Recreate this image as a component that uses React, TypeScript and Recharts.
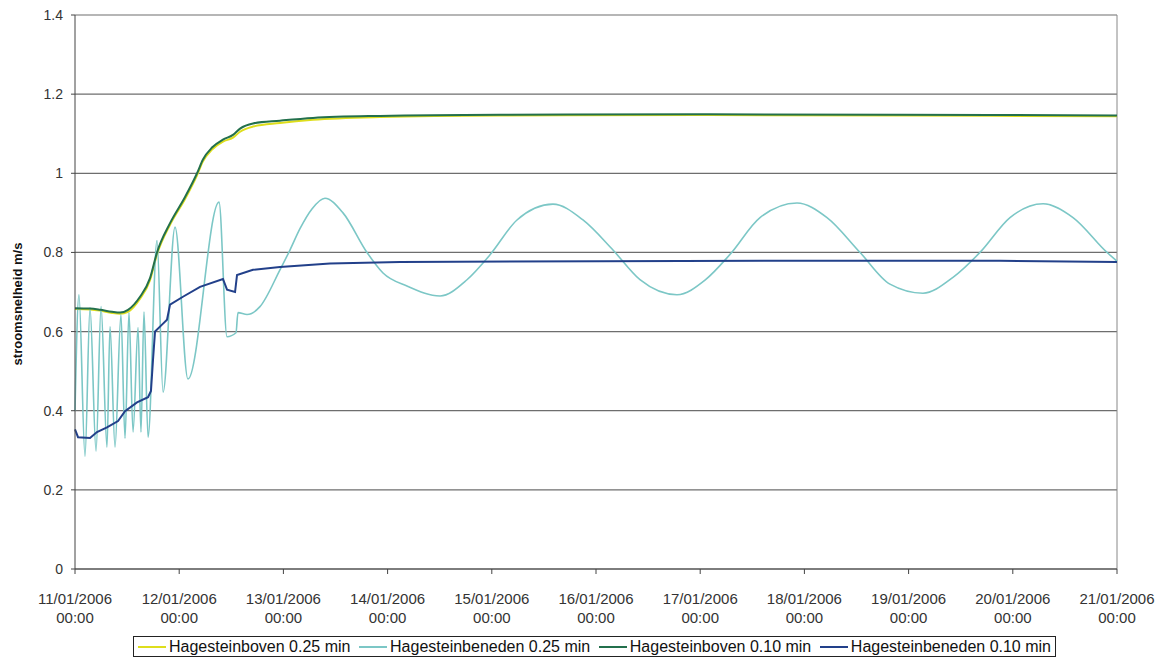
import { CartesianGrid, Line, LineChart, ReferenceLine, XAxis, YAxis } from "recharts";

// time in days since 11/01/2006 00:00
const dayLabels = [
  "11/01/2006", "12/01/2006", "13/01/2006", "14/01/2006", "15/01/2006", "16/01/2006",
  "17/01/2006", "18/01/2006", "19/01/2006", "20/01/2006", "21/01/2006",
];
const yTicks = [0, 0.2, 0.4, 0.6, 0.8, 1, 1.2, 1.4];

// Hagesteinboven (upstream), both time steps share the same sample times
const bovenT = [
  0, 0.144, 0.24, 0.355, 0.432, 0.509, 0.624, 0.72, 0.787, 0.912, 1.056, 1.171, 1.228,
  1.315, 1.42, 1.516, 1.584, 1.708, 1.967, 2.284, 2.927, 4.079, 5.998, 7.917, 10,
];
const boven025 = [
  0.657, 0.656, 0.653, 0.647, 0.645, 0.65, 0.683, 0.73, 0.795, 0.87, 0.935, 0.995, 1.03,
  1.06, 1.08, 1.09, 1.105, 1.118, 1.127, 1.135, 1.142, 1.146, 1.147, 1.146, 1.144,
];
const boven010 = [
  0.659, 0.658, 0.655, 0.65, 0.648, 0.655, 0.688, 0.735, 0.8, 0.874, 0.94, 1.0, 1.035,
  1.065, 1.085, 1.097, 1.113, 1.126, 1.133, 1.14, 1.145, 1.148, 1.149, 1.148, 1.146,
];

// Hagesteinbeneden (downstream), 0.25 min step
const beneden025T = [
  0, 0.038, 0.096, 0.144, 0.202, 0.25, 0.307, 0.336, 0.384, 0.441, 0.48, 0.518, 0.557,
  0.605, 0.633, 0.662, 0.701, 0.787, 0.845, 0.96, 1.084, 1.382, 1.459, 1.545, 1.564,
  1.651, 1.775, 1.967, 2.063, 2.159, 2.274, 2.399, 2.572, 2.802, 2.956, 3.186, 3.503,
  3.762, 3.983, 4.242, 4.587, 4.875, 5.163, 5.422, 5.777, 6.046, 6.286, 6.574, 6.929,
  7.217, 7.534, 7.821, 8.138, 8.426, 8.685, 8.973, 9.29, 9.578, 9.904, 10,
];
const beneden025 = [
  0.4, 0.693, 0.285, 0.66, 0.298, 0.663, 0.308, 0.613, 0.308, 0.643, 0.33, 0.648, 0.346,
  0.61, 0.346, 0.65, 0.333, 0.83, 0.447, 0.864, 0.48, 0.927, 0.587, 0.597, 0.648,
  0.643, 0.663, 0.756, 0.806, 0.86, 0.91, 0.937, 0.9, 0.8, 0.748, 0.715, 0.69,
  0.731, 0.794, 0.882, 0.922, 0.882, 0.806, 0.731, 0.693, 0.73, 0.795, 0.888, 0.925,
  0.888, 0.8, 0.72, 0.697, 0.737, 0.8, 0.888, 0.923, 0.888, 0.8, 0.778,
];

// Hagesteinbeneden (downstream), 0.10 min step
const beneden010T = [
  0, 0.029, 0.144, 0.211, 0.307, 0.413, 0.48, 0.595, 0.701, 0.729, 0.749, 0.768, 0.845,
  0.883, 0.912, 1.036, 1.2, 1.42, 1.459, 1.536, 1.555, 1.708, 1.967, 2.447, 3.119,
  5.038, 6.958, 8.877, 10,
];
const beneden010 = [
  0.353, 0.333, 0.331, 0.346, 0.358, 0.374, 0.399, 0.421, 0.434, 0.45, 0.53, 0.6, 0.62,
  0.63, 0.668, 0.688, 0.713, 0.733, 0.706, 0.7, 0.743, 0.756, 0.763, 0.772, 0.776,
  0.778, 0.779, 0.779, 0.776,
];

const zip = (t: number[], v: number[]) => t.map((x, i) => ({ t: x, v: v[i] }));

const series = [
  { name: "Hagesteinboven 0.25 min", color: "#dede1c", width: 2, data: zip(bovenT, boven025), type: "monotone" },
  { name: "Hagesteinbeneden 0.25 min", color: "#7cc7c6", width: 1.6, data: zip(beneden025T, beneden025), type: "monotone" },
  { name: "Hagesteinboven 0.10 min", color: "#23704c", width: 2, data: zip(bovenT, boven010), type: "monotone" },
  { name: "Hagesteinbeneden 0.10 min", color: "#22408a", width: 2, data: zip(beneden010T, beneden010), type: "linear" },
] as const;

const FONT = "Arial, 'Liberation Sans', sans-serif";
const INK = "#333";

function DayTick({ x, y, payload }: any) {
  const label = dayLabels[Math.round(payload.value)];
  return (
    <g transform={`translate(${x},${y})`}>
      <text textAnchor="middle" fontFamily={FONT} fontSize={15} fill={INK}>
        <tspan x={0} dy={28}>{label}</tspan>
        <tspan x={0} dy={19}>00:00</tspan>
      </text>
    </g>
  );
}

function AxisTitle() {
  const cy = 304;
  return (
    <text
      x={17}
      y={cy}
      transform={`rotate(-90, 17, ${cy})`}
      textAnchor="middle"
      dominantBaseline="central"
      fontFamily={FONT}
      fontSize={13}
      fontWeight="bold"
      fill="#111"
    >
      stroomsnelheid m/s
    </text>
  );
}

function LegendBox() {
  return (
    <div
      style={{
        position: "absolute",
        left: 133,
        top: 636,
        width: 923,
        height: 21,
        border: "1px solid #222",
        display: "flex",
        alignItems: "center",
        justifyContent: "space-between",
        padding: "0 4px",
        boxSizing: "border-box",
        fontFamily: FONT,
        fontSize: 16,
        color: "#111",
        background: "#fff",
      }}
    >
      {series.map((s) => (
        <span key={s.name} style={{ display: "flex", alignItems: "center", whiteSpace: "nowrap" }}>
          <span style={{ display: "inline-block", width: 28, height: 2, background: s.color, marginRight: 3 }} />
          {s.name}
        </span>
      ))}
    </div>
  );
}

export default function App() {
  return (
    <div style={{ position: "absolute", left: 0, top: 0, width: 1172, height: 660, background: "#fff" }}>
      <LineChart width={1172} height={660} margin={{ top: 15, right: 55, bottom: 41, left: 0 }}>
        <CartesianGrid vertical={false} stroke="#6e6e6e" strokeWidth={1.2} />
        <XAxis
          dataKey="t"
          type="number"
          domain={[0, 10]}
          ticks={[0, 1, 2, 3, 4, 5, 6, 7, 8, 9, 10]}
          tick={<DayTick />}
          height={50}
          stroke="#444"
          tickSize={5}
          allowDuplicatedCategory={false}
        />
        <YAxis
          type="number"
          domain={[0, 1.4]}
          ticks={yTicks}
          width={75}
          stroke="#444"
          tickSize={4}
          tickMargin={8}
          tickFormatter={(v: number) => String(v)}
          tick={{ fontFamily: FONT, fontSize: 14, fill: INK }}
          label={<AxisTitle />}
        />
        <ReferenceLine x={10} stroke="#888" />
        {series.map((s) => (
          <Line
            key={s.name}
            data={s.data}
            dataKey="v"
            name={s.name}
            type={s.type}
            stroke={s.color}
            strokeWidth={s.width}
            dot={false}
            isAnimationActive={false}
          />
        ))}
      </LineChart>
      <LegendBox />
    </div>
  );
}
